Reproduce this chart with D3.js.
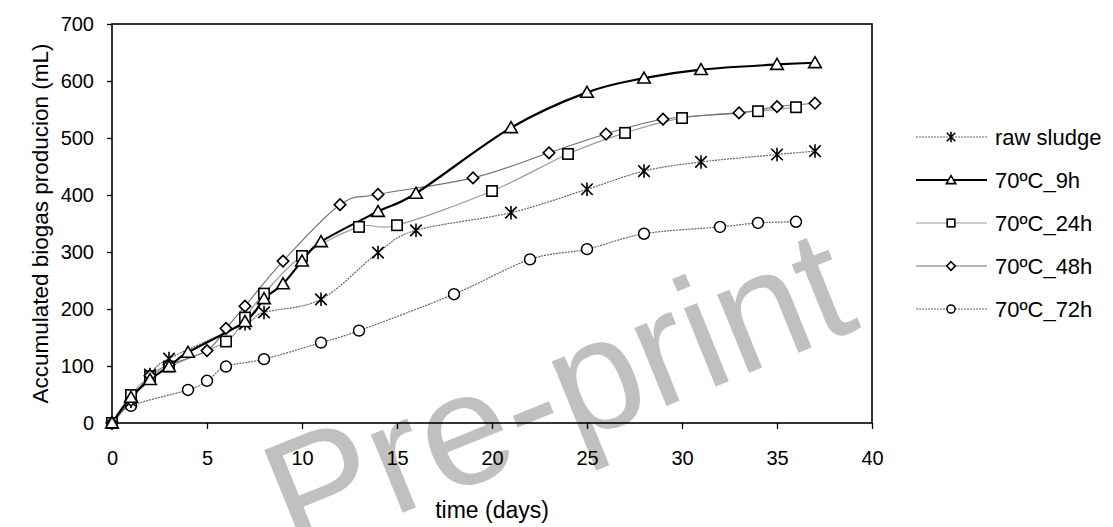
<!DOCTYPE html>
<html><head><meta charset="utf-8">
<script src="https://cdn.jsdelivr.net/npm/d3@7"></script>
<style>
body{margin:0;background:#fff}
svg{display:block}
text{font-family:"Liberation Sans",Arial,sans-serif}
</style>
</head><body><svg id="c" width="1113" height="527"></svg>
<script>
// ---- data ----
const seriesNames = ["raw sludge","70ºC_9h","70ºC_24h","70ºC_48h","70ºC_72h"];
const rawDays = [0,1,2,3,7,8,11,14,16,21,25,28,31,35,37];
const rawVals = [0,38,85,113,174,194,217,299,338,369,410,442,458,471,477];
const h9Days  = [0,1,2,3,4,7,8,9,10,11,14,16,21,25,28,31,35,37];
const h9Vals  = [0,45,76,99,124,178,218,244,284,318,371,403,518,580,605,620,629,632];
const h24Days = [0,1,2,3,6,7,8,10,13,15,20,24,27,30,34,36];
const h24Vals = [0,49,82,99,143,185,227,293,344,347,407,472,509,535,547,554];
const h48Days = [0,1,2,3,5,6,7,9,12,14,19,23,26,29,33,35,37];
const h48Vals = [0,40,83,102,127,166,205,284,383,401,430,474,507,533,544,555,561];
const h72Days = [0,1,4,5,6,8,11,13,18,22,25,28,32,34,36];
const h72Vals = [0,30,58,74,99,112,141,162,226,287,305,332,344,351,353];
const xTicks = [0,5,10,15,20,25,30,35,40];
const yTicks = [0,100,200,300,400,500,600,700];
const xTitle = "time (days)";
const yTitle = "Accumulated biogas producion (mL)";
const watermark = "Pre-print";

const dayArrays = [rawDays,h9Days,h24Days,h48Days,h72Days];
const valArrays = [rawVals,h9Vals,h24Vals,h48Vals,h72Vals];
const markerTypes = ["asterisk","triangle","square","diamond","circle"];
const lineStyles = [
  {stroke:"#666", width:1.2, dash:"2,1"},
  {stroke:"#000", width:2.2, dash:null},
  {stroke:"#9a9a9a", width:1.2, dash:null},
  {stroke:"#707070", width:1.1, dash:null},
  {stroke:"#666", width:1.2, dash:"2,1"}
];

const svg = d3.select("#c");
const L=112, R=872, T=24, B=423;
const x = d3.scaleLinear().domain([0,40]).range([L,R]);
const y = d3.scaleLinear().domain([0,700]).range([B,T]);

// watermark
svg.append("text")
  .attr("transform","translate(578,442) rotate(-22)")
  .attr("text-anchor","middle")
  .attr("font-size",160)
  .attr("fill","#c0c0c0")
  .text(watermark);

// axes
const yAxis = svg.append("g").attr("transform",`translate(${L},0)`)
  .call(d3.axisLeft(y).tickValues(yTicks).tickSize(5).tickPadding(13).tickFormat(d3.format("d")));
yAxis.select(".domain").remove();
yAxis.selectAll("line").attr("stroke","#000").attr("stroke-width",1.3);
yAxis.selectAll("text").attr("font-size",20).attr("fill","#000").attr("font-family","Liberation Sans, Arial, sans-serif");

const xAxis = svg.append("g").attr("transform",`translate(0,${B})`)
  .call(d3.axisBottom(x).tickValues(xTicks).tickSize(6).tickPadding(22).tickFormat(d3.format("d")));
xAxis.select(".domain").remove();
xAxis.selectAll("line").attr("stroke","#000").attr("stroke-width",1.3);
xAxis.selectAll("text").attr("font-size",20).attr("fill","#000").attr("font-family","Liberation Sans, Arial, sans-serif");

// frame
svg.append("rect").attr("x",L).attr("y",T).attr("width",R-L).attr("height",B-T)
  .attr("fill","none").attr("stroke","#000").attr("stroke-width",1.6);

// titles
svg.append("text").attr("x",492).attr("y",518).attr("text-anchor","middle")
  .attr("font-size",23).text(xTitle);
svg.append("text").attr("transform",`translate(48,${(T+B)/2}) rotate(-90)`).attr("text-anchor","middle")
  .attr("font-size",22.5).text(yTitle);

// marker drawing
function drawMarker(g, type, cx, cy, s){
  const h = s/2;
  if(type==="asterisk"){
    g.append("path").attr("d",`M${cx-h},${cy-h}L${cx+h},${cy+h}M${cx-h},${cy+h}L${cx+h},${cy-h}M${cx},${cy-h-1}L${cx},${cy+h+1}`)
      .attr("stroke","#000").attr("stroke-width",1.6).attr("fill","none");
  } else if(type==="triangle"){
    g.append("path").attr("d",`M${cx},${cy-h*1.05}L${cx+h*1.1},${cy+h*0.85}L${cx-h*1.1},${cy+h*0.85}Z`)
      .attr("stroke","#000").attr("stroke-width",1.6).attr("fill","#fff");
  } else if(type==="square"){
    g.append("rect").attr("x",cx-h*0.9).attr("y",cy-h*0.9).attr("width",h*1.8).attr("height",h*1.8)
      .attr("stroke","#000").attr("stroke-width",1.6).attr("fill","#fff");
  } else if(type==="diamond"){
    g.append("path").attr("d",`M${cx},${cy-h}L${cx+h},${cy}L${cx},${cy+h}L${cx-h},${cy}Z`)
      .attr("stroke","#000").attr("stroke-width",1.6).attr("fill","#fff");
  } else {
    g.append("circle").attr("cx",cx).attr("cy",cy).attr("r",h*0.95)
      .attr("stroke","#000").attr("stroke-width",1.5).attr("fill","#fff");
  }
}

const line = d3.line().x(d=>x(d[0])).y(d=>y(d[1])).curve(d3.curveCardinal.tension(0));
const plot = svg.append("g");
const order = [4,0,2,3,1];
order.forEach(i=>{
  const pts = dayArrays[i].map((d,k)=>[d,valArrays[i][k]]);
  const st = lineStyles[i];
  plot.append("path").attr("d",line(pts)).attr("fill","none")
    .attr("stroke",st.stroke).attr("stroke-width",st.width)
    .attr("stroke-dasharray",st.dash);
});
order.forEach(i=>{
  const g = plot.append("g");
  dayArrays[i].forEach((d,k)=>drawMarker(g, markerTypes[i], x(d), y(valArrays[i][k]), 11.5));
});

// legend
const legY0 = 137, legDy = 43;
seriesNames.forEach((name,i)=>{
  const yy = legY0 + i*legDy;
  const st = lineStyles[i];
  svg.append("line").attr("x1",916).attr("x2",987).attr("y1",yy).attr("y2",yy)
    .attr("stroke",st.stroke).attr("stroke-width",st.width).attr("stroke-dasharray",st.dash);
  drawMarker(svg.append("g"), markerTypes[i], 951, yy, 8.5);
  svg.append("text").attr("x",995).attr("y",yy).attr("dy","0.36em").attr("font-size",22).text(name);
});
</script>
</body></html>
